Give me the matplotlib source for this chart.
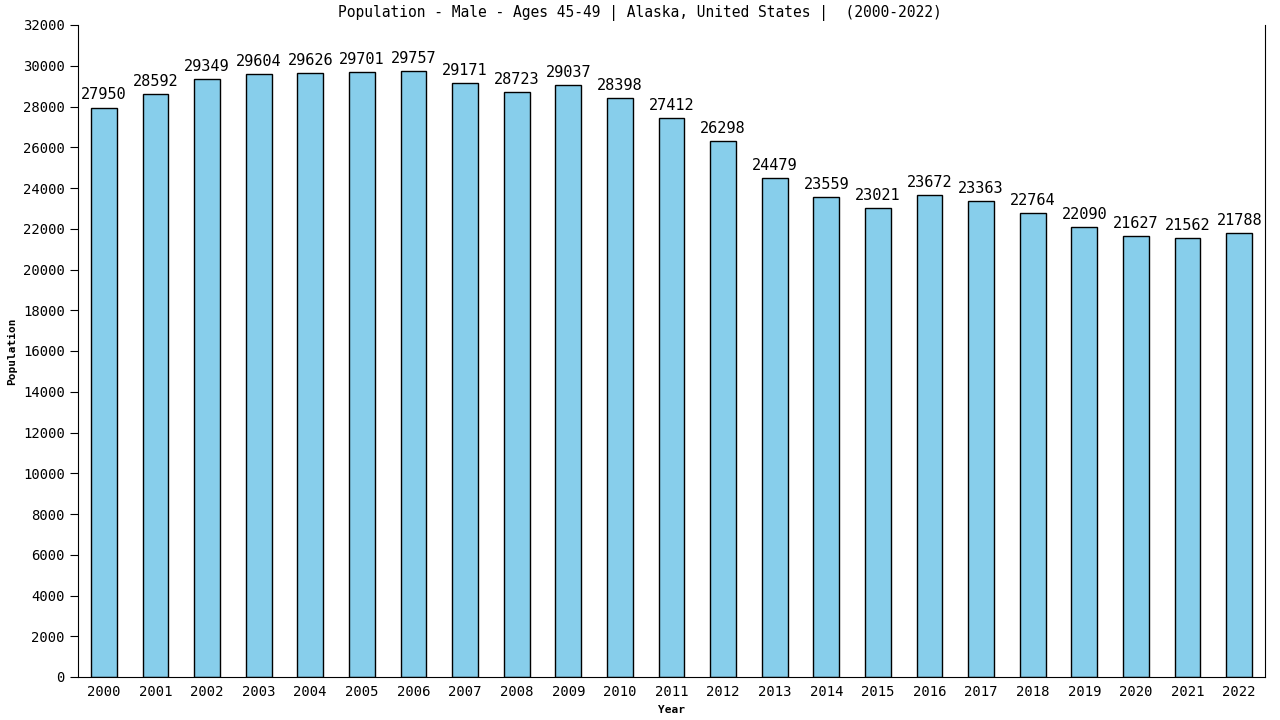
import matplotlib
matplotlib.use("Agg")
import matplotlib.pyplot as plt
import numpy as np

# data
years = [str(y) for y in range(2000, 2023)]
population = [27950, 28592, 29349, 29604, 29626, 29701, 29757, 29171, 28723, 29037,
              28398, 27412, 26298, 24479, 23559, 23021, 23672, 23363, 22764, 22090,
              21627, 21562, 21788]
title = "Population - Male - Ages 45-49 | Alaska, United States |  (2000-2022)"

plt.rcParams["font.family"] = ["DejaVu Sans Mono"]

fig = plt.figure(figsize=(12.8, 7.2), dpi=100)
ax = fig.add_axes([78 / 1280, 1 - 677 / 720, (1265 - 78) / 1280, (677 - 25) / 720])

x = np.arange(len(years))
bars = ax.bar(x, population, width=0.5, color="#87CEEB", edgecolor="black", linewidth=1)

for xi, v in zip(x, population):
    ax.text(xi, v + 250, str(v), ha="center", va="bottom", fontsize=11)

ax.set_xlim(-0.5, len(years) - 0.5)
ax.set_ylim(0, 32000)
ax.set_yticks(np.arange(0, 32001, 2000))
ax.set_xticks(x)
ax.set_xticklabels(years, fontsize=10)
ax.tick_params(axis="y", labelsize=10, length=6)
ax.tick_params(axis="x", length=0, pad=6)
ax.spines["top"].set_visible(False)
ax.set_xlabel("Year", fontsize=8, fontweight="bold")
ax.set_ylabel("Population", fontsize=8, fontweight="bold")
fig.text(0.5, 1 - 13 / 720, title, ha="center", va="center", fontsize=10.5)

fig.savefig("out.png", dpi=100)
